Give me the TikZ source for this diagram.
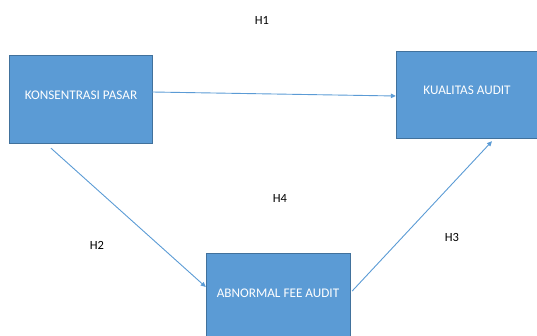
\documentclass[tikz,border=0pt]{standalone}
\usepackage{fontspec}
\setmainfont{Carlito}
\usetikzlibrary{arrows.meta}
\definecolor{boxblue}{HTML}{5B9BD5}
\definecolor{boxline}{HTML}{41719C}
\tikzset{
	varbox/.style={draw=boxline, fill=boxblue, inner sep=0pt},
	boxtext/.style={text=white, font=\fontsize{13.2}{15}\selectfont},
	link/.style={draw=boxblue, line width=0.9pt, -{Triangle[length=5pt,width=4.5pt]}},
	hyp/.style={font=\fontsize{12.5}{14}\selectfont}
}
\begin{document}
\begin{tikzpicture}[x=1pt, y=-1pt]
	\useasboundingbox (0,0) rectangle (537,336);
	\node[varbox, minimum width=143pt, minimum height=88pt] (kp) at (80.5,99) {};
	\node[varbox, minimum width=146pt, minimum height=87pt] (ka) at (469,94.5) {};
	\node[varbox, minimum width=144pt, minimum height=90pt] (afa) at (278,298) {};
	%teks
	\node[boxtext] (kpt) at (81,95) {KONSENTRASI PASAR};
	\node[boxtext] (kat) at (467,90) {KUALITAS AUDIT};
	\node[boxtext] (afat) at (278,293) {ABNORMAL FEE AUDIT};
	%panah
	\draw[link] ([yshift=7]kp.east) -- ([yshift=-1.5]ka.west);
	\draw[link] ([shift={(-29.5,5)}]kp.south) -- ([yshift=11]afa.west);
	\draw[link] ([shift={(2,-7)}]afa.east) -- ([shift={(23,3)}]ka.south);
	%hipotesis
	\node[hyp] (h1) at (262,20) {H1};
	\node[hyp] (h4) at (280,198) {H4};
	\node[hyp] (h2) at (97,245) {H2};
	\node[hyp] (h3) at (452,237) {H3};
\end{tikzpicture}
\end{document}
